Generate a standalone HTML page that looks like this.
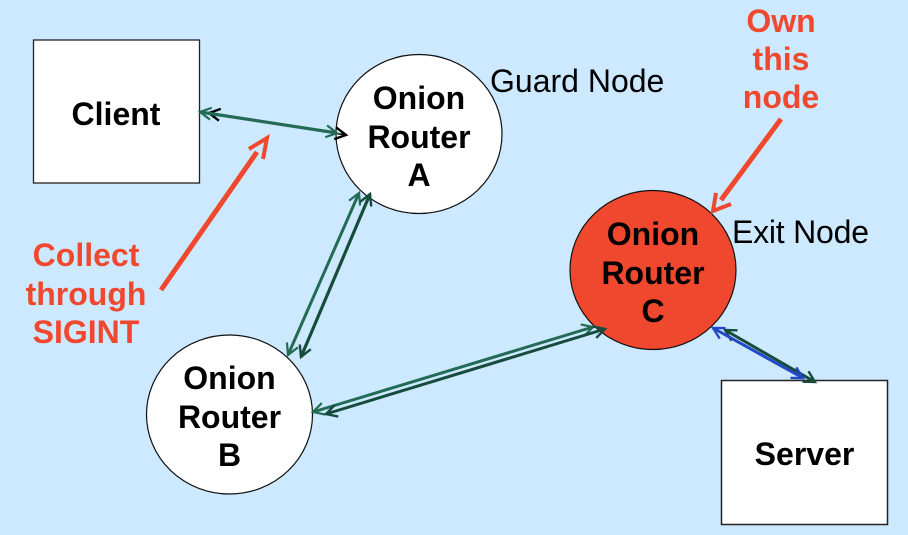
<!DOCTYPE html>
<html>
<head>
<meta charset="utf-8">
<style>
html,body{margin:0;padding:0;background:#cde9ff}
svg{display:block}
text{font-family:"Liberation Sans",sans-serif;font-size:32px}
.b{font-weight:bold;text-anchor:middle;fill:#000}
.r{font-weight:bold;text-anchor:middle;fill:#f0482e}
.n{fill:#000}
</style>
</head>
<body>
<svg width="908" height="535" viewBox="0 0 908 535" xmlns="http://www.w3.org/2000/svg">
<defs>
<marker id="g" markerUnits="userSpaceOnUse" markerWidth="20" markerHeight="20" refX="15" refY="10" orient="auto-start-reverse"><path d="M4 4L15 10L4 16" fill="none" stroke="#236b55" stroke-width="2.200"/></marker>
<marker id="d" markerUnits="userSpaceOnUse" markerWidth="20" markerHeight="20" refX="15" refY="10" orient="auto-start-reverse"><path d="M4 4L15 10L4 16" fill="none" stroke="#174c3c" stroke-width="2.400"/></marker>
<marker id="k" markerUnits="userSpaceOnUse" markerWidth="20" markerHeight="20" refX="15" refY="10" orient="auto-start-reverse"><path d="M4 4L15 10L4 16" fill="none" stroke="#000" stroke-width="2.400"/></marker>
<marker id="u" markerUnits="userSpaceOnUse" markerWidth="20" markerHeight="20" refX="15" refY="10" orient="auto-start-reverse"><path d="M4 4L15 10L4 16" fill="none" stroke="#2349c8" stroke-width="2.400"/></marker>
</defs>
<rect width="908" height="535" fill="#cde9ff"/>
<rect x="33.5" y="40" width="166" height="143" fill="#fff" stroke="#222" stroke-width="1.300"/>
<rect x="721.5" y="380.5" width="166" height="144" fill="#fff" stroke="#222" stroke-width="1.500"/>
<ellipse cx="419" cy="134" rx="83" ry="79.5" fill="#fff" stroke="#111" stroke-width="1.200"/>
<ellipse cx="229.500" cy="414.500" rx="83" ry="79.5" fill="#fff" stroke="#111" stroke-width="1.200"/>
<ellipse cx="653" cy="270" rx="83" ry="79.5" fill="#f0482e" stroke="#111" stroke-width="1.200"/>

<line x1="209" y1="113" x2="346" y2="135" stroke="#000" stroke-width="1.500" marker-start="url(#k)" marker-end="url(#k)"/>
<line x1="200" y1="112" x2="337" y2="133" stroke="#236b55" stroke-width="3.200" marker-start="url(#g)" marker-end="url(#g)"/>

<line x1="359" y1="193" x2="288" y2="355" stroke="#236b55" stroke-width="3" marker-start="url(#g)" marker-end="url(#g)"/>
<line x1="370" y1="194" x2="301" y2="357" stroke="#174c3c" stroke-width="3.200" marker-start="url(#d)" marker-end="url(#d)"/>

<line x1="313" y1="412" x2="593" y2="327" stroke="#236b55" stroke-width="3" marker-start="url(#g)" marker-end="url(#g)"/>
<line x1="326" y1="414" x2="605" y2="329" stroke="#174c3c" stroke-width="3" marker-start="url(#d)" marker-end="url(#d)"/>

<line x1="725" y1="330" x2="815" y2="382" stroke="#174c3c" stroke-width="3" marker-start="url(#d)" marker-end="url(#d)"/>
<line x1="713" y1="328" x2="803" y2="378" stroke="#2349c8" stroke-width="3" marker-start="url(#u)" marker-end="url(#u)"/>

<path d="M161 290L257 152" stroke="#f0482e" stroke-width="5" fill="none"/>
<path d="M249 149L267 138L263 159" stroke="#f0482e" stroke-width="4" fill="none"/>
<path d="M781 119L721 200" stroke="#f0482e" stroke-width="5" fill="none"/>
<path d="M716 193L713 211L731 204" stroke="#f0482e" stroke-width="4" fill="none"/>

<text class="b" x="116" y="125">Client</text>
<text class="b" x="804.500" y="465">Server</text>
<text class="b" x="419" y="109">Onion</text>
<text class="b" x="419" y="148">Router</text>
<text class="b" x="419" y="186">A</text>
<text class="b" x="229.500" y="389">Onion</text>
<text class="b" x="229.500" y="428">Router</text>
<text class="b" x="229.500" y="466">B</text>
<text class="b" x="653" y="245">Onion</text>
<text class="b" x="653" y="284">Router</text>
<text class="b" x="653" y="322">C</text>
<text class="n" x="490" y="92">Guard Node</text>
<text class="n" x="732" y="243" textLength="137">Exit Node</text>
<text class="r" x="86" y="266">Collect</text>
<text class="r" x="86" y="305">through</text>
<text class="r" x="86" y="343">SIGINT</text>
<text class="r" x="781" y="32">Own</text>
<text class="r" x="781" y="70">this</text>
<text class="r" x="781" y="108">node</text>
</svg>
</body>
</html>
